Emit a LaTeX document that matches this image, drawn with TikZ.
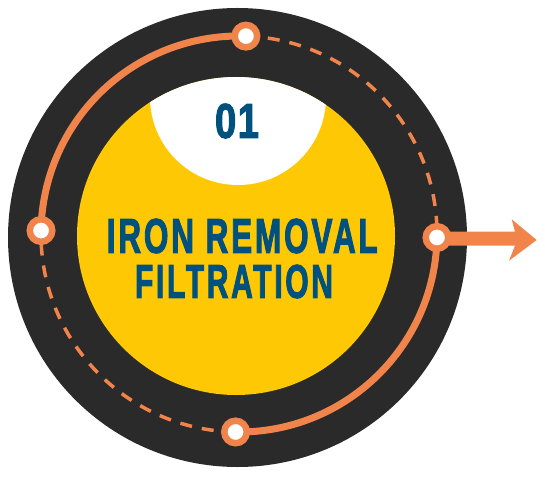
\documentclass[tikz,border=0pt]{standalone}
\usepackage{fontspec}
\usetikzlibrary{calc}
\setmainfont{Liberation Sans}
\newfontfamily\headfont[FakeBold=2.6, LetterSpace=9]{Liberation Sans Bold}
\newfontfamily\numfont[FakeBold=2.6, LetterSpace=4]{Liberation Sans Bold}
\definecolor{ringdark}{HTML}{2A2A2A}
\definecolor{sunyellow}{HTML}{FFC805}
\definecolor{trackorange}{HTML}{F0844A}
\definecolor{titleblue}{HTML}{01517F}
\tikzset{
  marker/.style={circle, draw=trackorange, fill=white, line width=6.5pt, minimum size=22.5pt, inner sep=0pt},
  solidtrack/.style={draw=trackorange, line width=7pt},
  dashtrack/.style={draw=trackorange, line width=3.5pt, dash pattern=on 12pt off 10pt},
  titletext/.style={inner sep=0pt, text=titleblue, font=\headfont}
}
\begin{document}
\begin{tikzpicture}[x=1pt,y=1pt]
\useasboundingbox (0,0) rectangle (545,477);
% dark ring
\fill[ringdark] (237.5,239.5) circle[radius=229.5];
% yellow disc with white cap
\fill[sunyellow] (236,241) circle[radius=159];
\begin{scope}
  \clip (236,241) circle[radius=159];
  \fill[white] (238,380) circle[radius=88];
\end{scope}
% texts
\node[titletext, font=\numfont] (num) at (237,356) {\resizebox{44pt}{34pt}{01}};
\node[titletext] (t1) at (242.3,241) {\resizebox{271pt}{34pt}{IRON REMOVAL}};
\node[titletext] (t2) at (234,195.5) {\resizebox{198pt}{33pt}{FILTRATION}};
% track geometry
\coordinate (c) at (239,243);
\coordinate (pL) at ($(c)+(179:198)$);
\coordinate (pT) at ($(c)+(88:198)$);
\coordinate (pR) at ($(c)+(-1:198)$);
\coordinate (pB) at ($(c)+(-91:198)$);
% arcs
\draw[solidtrack] (pL) arc[start angle=179, end angle=88, radius=198];
\draw[dashtrack] (pT) arc[start angle=88, end angle=-1, radius=198];
\draw[solidtrack] (pR) arc[start angle=-1, end angle=-91, radius=198];
\draw[dashtrack] (pB) arc[start angle=-91, end angle=-181, radius=198];
% arrow
\coordinate (sh1) at (515,245.3);
\coordinate (sh2) at (515,231.3);
\coordinate (tip) at (536.7,237);
\fill[trackorange] (pR |- sh1) -- (sh1) -- (511.7,257.7) -- (tip) -- (509,216.3) -- (sh2) -- (pR |- sh2) -- cycle;
% markers
\node[marker] (L) at (pL) {};
\node[marker] (T) at (pT) {};
\node[marker] (R) at (pR) {};
\node[marker] (B) at (pB) {};
\end{tikzpicture}
\end{document}
